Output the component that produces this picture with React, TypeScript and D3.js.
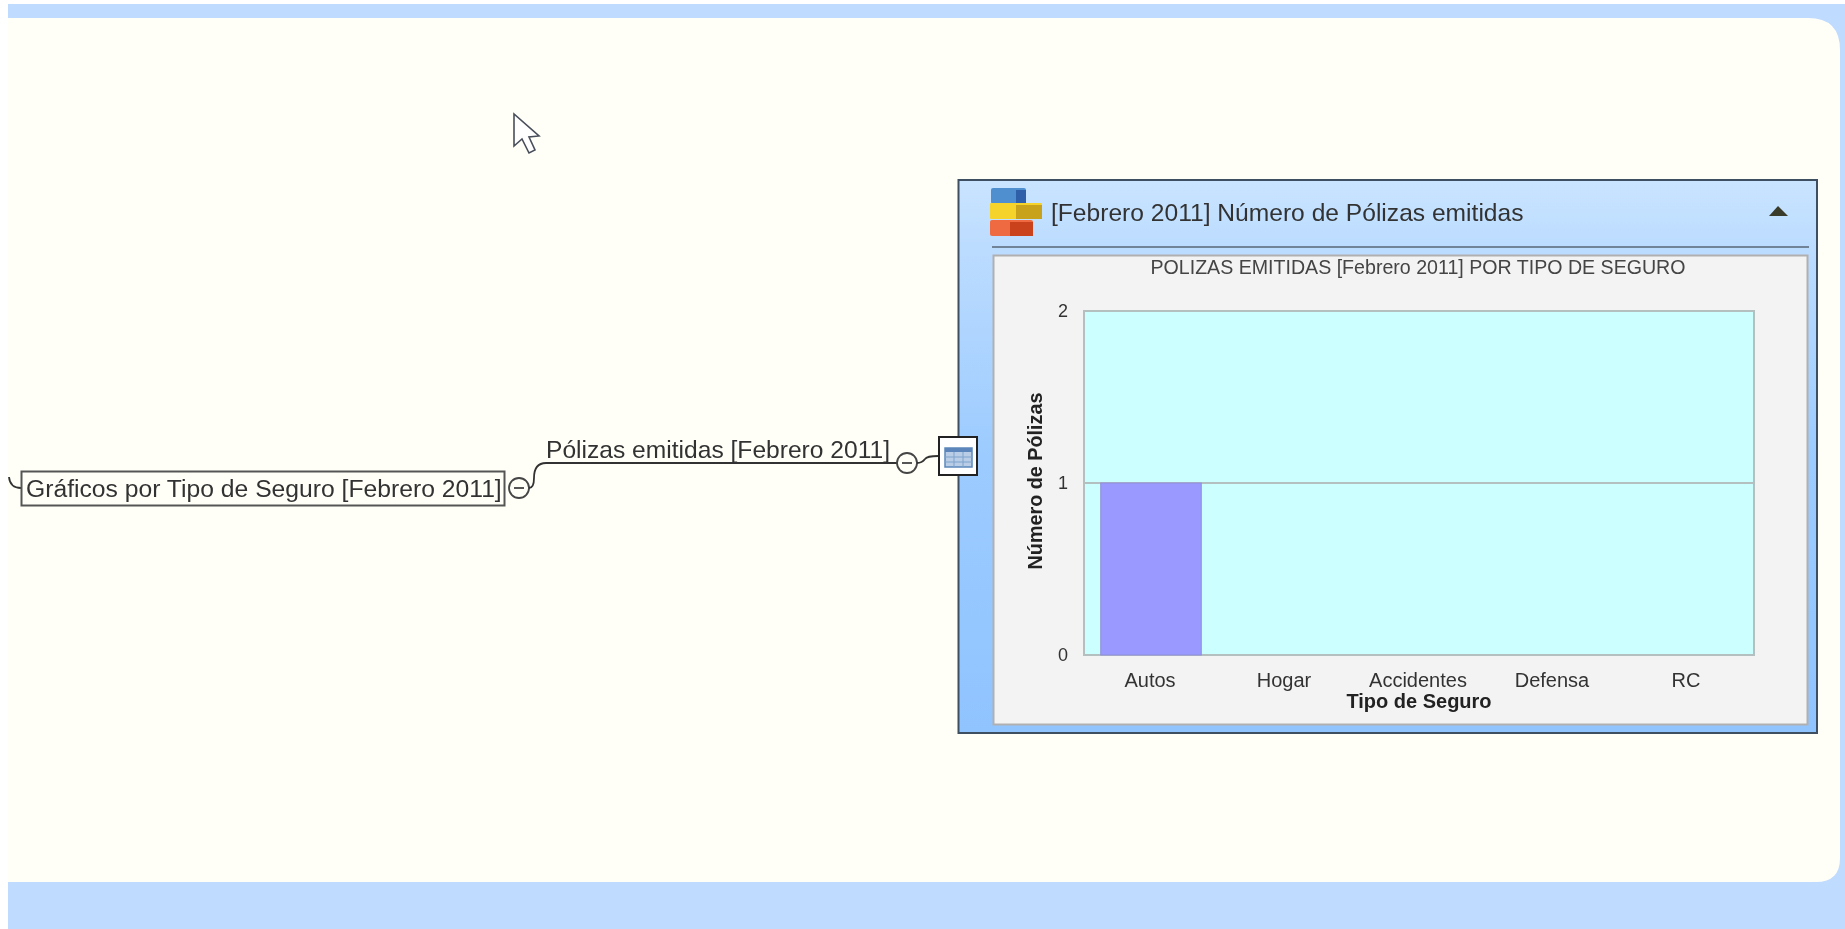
import React, { useEffect, useRef } from 'react';
import * as d3 from 'd3';

const categories = ['Autos', 'Hogar', 'Accidentes', 'Defensa', 'RC'];
const polizas = [1, 0, 0, 0, 0];
const yTicks = [0, 1, 2];

const chartTitle = 'POLIZAS EMITIDAS [Febrero 2011] POR TIPO DE SEGURO';
const panelTitle = '[Febrero 2011] Número de Pólizas emitidas';
const nodeTitle = 'Gráficos por Tipo de Seguro [Febrero 2011]';
const linkTitle = 'Pólizas emitidas [Febrero 2011]';
const xTitle = 'Tipo de Seguro';
const yTitle = 'Número de Pólizas';

const FONT = '"Liberation Sans", Arial, sans-serif';

// plot area, in page pixels
const plot = { left: 1084, right: 1754, top: 311, bottom: 655 };

export default function App() {
  const xRef = useRef<SVGGElement>(null);
  const yRef = useRef<SVGGElement>(null);

  const x = d3.scaleBand<string>()
    .domain(categories)
    .range([plot.left, plot.right])
    .paddingInner(0.25)
    .paddingOuter(0.125);
  const y = d3.scaleLinear().domain([0, 2]).range([plot.bottom, plot.top]);

  useEffect(() => {
    d3.select(xRef.current!)
      .call(d3.axisBottom(x).tickSize(0).tickPadding(18) as any)
      .call(g => g.select('.domain').remove())
      .selectAll('text')
      .attr('font-size', 20)
      .attr('font-family', FONT)
      .attr('fill', '#333')
      .attr('dx', -1);
    d3.select(yRef.current!)
      .call(d3.axisLeft(y).tickValues(yTicks).tickFormat(d3.format('d')).tickSize(0).tickPadding(16) as any)
      .call(g => g.select('.domain').remove())
      .selectAll('text')
      .attr('font-size', 18)
      .attr('font-family', FONT)
      .attr('fill', '#333');
  }, []);

  return (
    <svg width={1845} height={929} style={{ position: 'absolute', left: 0, top: 0, display: 'block' }}>
      <defs>
        <filter id="soft" x="-5%" y="-5%" width="110%" height="110%">
          <feGaussianBlur stdDeviation="0.7" />
        </filter>
        <linearGradient id="panelBg" x1="0" y1="0" x2="0" y2="1">
          <stop offset="0" stopColor="#c9e4ff" />
          <stop offset="0.12" stopColor="#bcdcff" />
          <stop offset="0.5" stopColor="#9ccbff" />
          <stop offset="1" stopColor="#90c4ff" />
        </linearGradient>
      </defs>
      <rect width={1845} height={929} fill="#fff" />
      <g filter="url(#soft)">
        {/* page background and canvas */}
        <rect x={8} y={4} width={1837} height={925} fill="#bfdbff" />
        <path d="M8,18 H1808 Q1840,18 1840,50 V858 Q1840,882 1816,882 H8 Z" fill="#fffff8" />

        {/* cursor */}
        <path d="M514,114 V146 L522,139 L529,153 L535,150 L529,137 L539,136 Z" fill="#fff" stroke="#4a4f5a" strokeWidth={1.6} />

        {/* mind map node */}
        <path d="M9,477 Q10,488 21,488" fill="none" stroke="#333" strokeWidth={1.8} />
        <rect x={21.5} y={471.5} width={483} height={34} fill="#fffff8" stroke="#555" strokeWidth={2} />
        <text x={26} y={497} fontFamily={FONT} fontSize={24.7} fill="#333">{nodeTitle}</text>
        <circle cx={519} cy={488} r={10} fill="#fffff8" stroke="#444" strokeWidth={1.8} />
        <line x1={514} x2={524} y1={488} y2={488} stroke="#444" strokeWidth={1.8} />
        <path d="M529,488 Q534,488 534,478 Q534,463 546,463 H897" fill="none" stroke="#333" strokeWidth={1.8} />
        <text x={546} y={458} fontFamily={FONT} fontSize={24.6} fill="#333">{linkTitle}</text>

        {/* panel */}
        <rect x={958.5} y={180} width={858.5} height={553} fill="url(#panelBg)" stroke="#3e4f60" strokeWidth={2} />
        <rect x={992} y={246} width={817} height={2} fill="#6f8397" />
        <rect x={993.5} y={255.5} width={814} height={469} fill="#f3f3f3" stroke="#b0b0b0" strokeWidth={2} />

        {/* stacked icon */}
        <rect x={991} y={188} width={35} height={16} rx={2} fill="#4f8fd0" />
        <rect x={1016} y={190} width={10} height={14} fill="#2f5fa8" />
        <rect x={990} y={203} width={52} height={16} rx={1} fill="#f5d32a" />
        <rect x={1016} y={205} width={26} height={14} fill="#c9a21f" />
        <rect x={990} y={220} width={43} height={16} rx={2} fill="#ef6a3f" />
        <rect x={1010} y={222} width={23} height={14} fill="#c9431f" />

        <text x={1051} y={220.5} fontFamily={FONT} fontSize={24.6} fill="#333">{panelTitle}</text>
        <path d="M1769,216 L1778,206 L1788,216 Z" fill="#3a3a2a" />
        <text x={1418} y={274} textAnchor="middle" fontFamily={FONT} fontSize={19.6} fill="#444">{chartTitle}</text>

        {/* chart */}
        <rect x={plot.left} y={plot.top} width={plot.right - plot.left} height={plot.bottom - plot.top} fill="#ccffff" stroke="#b4bfbf" strokeWidth={2} />
        <line x1={plot.left} x2={plot.right} y1={y(1)} y2={y(1)} stroke="#b4bfbf" strokeWidth={2} />
        {categories.map((c, i) => (
          polizas[i] > 0 ? (
            <rect key={c} x={x(c)} y={y(polizas[i])} width={x.bandwidth()} height={y(0) - y(polizas[i])} fill="#9999ff" stroke="#8f8fd8" strokeWidth={1} />
          ) : null
        ))}
        <g ref={xRef} transform={`translate(0,${plot.bottom})`} />
        <g ref={yRef} transform={`translate(${plot.left},0)`} />
        <text x={1419} y={708} textAnchor="middle" fontFamily={FONT} fontSize={20} fontWeight="bold" fill="#222">{xTitle}</text>
        <text transform="translate(1042,481) rotate(-90)" textAnchor="middle" fontFamily={FONT} fontSize={19.8} fontWeight="bold" fill="#222">{yTitle}</text>

        {/* collapse handle and table button */}
        <circle cx={907} cy={463} r={10} fill="#fffff8" stroke="#444" strokeWidth={1.8} />
        <line x1={902} x2={912} y1={463} y2={463} stroke="#444" strokeWidth={1.8} />
        <path d="M917,463 Q922,463 925,459 Q927,456 938,456" fill="none" stroke="#333" strokeWidth={1.8} />
        <rect x={939} y={437} width={38} height={38} fill="#fff" stroke="#222" strokeWidth={2} />
        <rect x={945} y={448} width={27} height={19} fill="#b9cde6" stroke="#5b86bb" strokeWidth={1.5} />
        <rect x={945} y={448} width={27} height={4} fill="#5b86bb" />
        <path d="M954,452 V467 M963,452 V467 M945,457 H972 M945,462 H972" stroke="#7fa2cc" strokeWidth={1} fill="none" />
      </g>
    </svg>
  );
}
